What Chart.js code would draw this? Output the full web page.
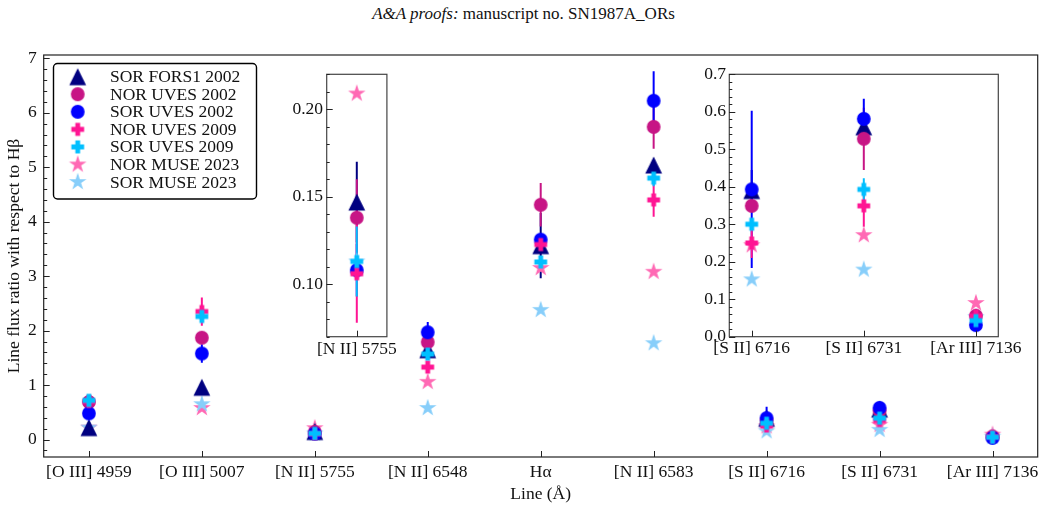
<!DOCTYPE html>
<html>
<head>
<meta charset="utf-8">
<script src="https://cdn.jsdelivr.net/npm/chart.js@4.4.1/dist/chart.umd.min.js"></script>
<style>
    body { margin: 0; background: #fff; width: 1047px; height: 514px; position: relative; overflow: hidden; }
    #page-title { position: absolute; top: 4px; left: 0; width: 1047px; text-align: center;
        font: 17px/20px "Liberation Serif", serif; color: #111; }
    canvas { position: absolute; }
</style>
</head>
<body>
<div id="page-title"><i>A&amp;A proofs:</i> manuscript no. SN1987A_ORs</div>
<canvas id="main-chart" width="1047" height="514" style="left:0;top:0"></canvas>
<canvas id="inset-nii" width="130" height="302" style="left:280px;top:60px"></canvas>
<canvas id="inset-sii" width="357" height="302" style="left:690px;top:60px"></canvas>
<script>
// Emission lines on the x axis
const lineLabels = ['[O III] 4959', '[O III] 5007', '[N II] 5755', '[N II] 6548', 'Hα',
    '[N II] 6583', '[S II] 6716', '[S II] 6731', '[Ar III] 7136'];

// Flux ratios relative to Hbeta, one value per line (null = not measured)
const sorFors1     = [0.22, 0.96, 0.147, 1.65, 3.56, 5.04, 0.390, 0.560, null];
const sorFors1Err  = [null, null, 0.023, null, 0.60, null, 0.055, null, null];
const norUves02    = [0.69, 1.87, 0.138, 1.79, 4.31, 5.74, 0.349, 0.528, 0.056];
const norUves02Err = [null, null, 0.022, null, 0.40, 0.40, null, 0.083, null];
const sorUves02    = [0.48, 1.58, 0.108, 1.97, 3.67, 6.22, 0.393, 0.581, 0.031];
const sorUves02Err = [null, 0.17, 0.015, 0.19, null, 0.54, 0.210, 0.054, null];
const norUves09    = [0.70, 2.35, 0.106, 1.33, 3.58, 4.40, 0.250, 0.349, 0.055];
const norUves09Err = [null, 0.26, 0.028, null, null, 0.31, 0.040, 0.056, null];
const sorUves09    = [0.72, 2.26, 0.113, 1.57, 3.26, 4.80, 0.300, 0.393, 0.043];
const sorUves09Err = [null, null, 0.020, null, null, 0.15, null, 0.030, null];
const norMuse23    = [0.22, 0.58, 0.209, 1.06, 3.15, 3.08, 0.244, 0.271, 0.090];
const sorMuse23    = [0.22, 0.65, 0.113, 0.58, 2.38, 1.77, 0.153, 0.179, 0.052];

const FONT = { family: '"Liberation Serif", serif', size: 17.5 };
const TEXT_COLOR = '#111';

// Filled matplotlib-like markers drawn once to small canvases
function makeMarker(shape, color) {
    const size = 22;
    const c = document.createElement('canvas');
    c.width = size; c.height = size;
    const ctx = c.getContext('2d');
    const m = size / 2;
    ctx.fillStyle = color;
    ctx.beginPath();
    if (shape === 'triangle') {
        const h = 8.4;
        ctx.moveTo(m, m - h); ctx.lineTo(m + h, m + h); ctx.lineTo(m - h, m + h);
    } else if (shape === 'circle') {
        ctx.arc(m, m, 6.9, 0, Math.PI * 2);
    } else if (shape === 'plus') {
        const a = 6.4, t = 2.4;
        const pts = [[t, -a], [t, -t], [a, -t], [a, t], [t, t], [t, a],
            [-t, a], [-t, t], [-a, t], [-a, -t], [-t, -t], [-t, -a]];
        pts.forEach(([px, py], k) => k ? ctx.lineTo(m + px, m + py) : ctx.moveTo(m + px, m + py));
    } else if (shape === 'star') {
        const ro = 9.2, ri = ro * 0.382;
        for (let k = 0; k < 10; k++) {
            const r = k % 2 ? ri : ro;
            const ang = -Math.PI / 2 + k * Math.PI / 5;
            const px = m + r * Math.cos(ang), py = m + r * Math.sin(ang);
            k ? ctx.lineTo(px, py) : ctx.moveTo(px, py);
        }
    }
    ctx.closePath();
    ctx.fill();
    return c;
}

// order: lower value is painted on top
const series = [
    { label: 'SOR FORS1 2002', values: sorFors1,  errors: sorFors1Err,  color: '#000080', shape: 'triangle', order: 5 },
    { label: 'NOR UVES 2002',  values: norUves02, errors: norUves02Err, color: '#C71585', shape: 'circle',   order: 4 },
    { label: 'SOR UVES 2002',  values: sorUves02, errors: sorUves02Err, color: '#0000FF', shape: 'circle',   order: 3 },
    { label: 'NOR UVES 2009',  values: norUves09, errors: norUves09Err, color: '#FF1493', shape: 'plus',     order: 2 },
    { label: 'SOR UVES 2009',  values: sorUves09, errors: sorUves09Err, color: '#00BFFF', shape: 'plus',     order: 1 },
    { label: 'NOR MUSE 2023',  values: norMuse23, errors: null,         color: '#FF69B4', shape: 'star',     order: 7 },
    { label: 'SOR MUSE 2023',  values: sorMuse23, errors: null,         color: '#87CEFA', shape: 'star',     order: 6 }
];
series.forEach(s => { s.marker = makeMarker(s.shape, s.color); });

function buildDatasets() {
    return series.map(s => ({
        label: s.label,
        order: s.order,
        data: s.values.map((v, i) => ({ x: i, y: v })).filter(p => p.y !== null),
        pointStyle: s.marker,
        pointRadius: 8,
        pointHoverRadius: 8,
        showLine: false
    }));
}

// Vertical error bars, no caps, under all markers
const errorBarPlugin = {
    id: 'errorBars',
    beforeDatasetsDraw(chart) {
        const { ctx, chartArea: a, scales: { x, y } } = chart;
        ctx.save();
        ctx.beginPath();
        ctx.rect(a.left, a.top, a.right - a.left, a.bottom - a.top);
        ctx.clip();
        ctx.lineWidth = 2;
        [...series].sort((p, q) => q.order - p.order).forEach(s => {
            if (!s.errors) return;
            ctx.strokeStyle = s.color;
            s.errors.forEach((e, i) => {
                if (e == null || s.values[i] == null) return;
                const px = x.getPixelForValue(i);
                ctx.beginPath();
                ctx.moveTo(px, y.getPixelForValue(s.values[i] - e));
                ctx.lineTo(px, y.getPixelForValue(s.values[i] + e));
                ctx.stroke();
            });
        });
        ctx.restore();
    }
};

// Box around the axes plus inward major/minor ticks (left and bottom only)
const axisFramePlugin = {
    id: 'axisFrame',
    beforeDraw(chart) {
        const { ctx, chartArea: a } = chart;
        ctx.save();
        ctx.fillStyle = '#fff';
        ctx.fillRect(a.left, a.top, a.right - a.left, a.bottom - a.top);
        ctx.restore();
    },
    afterDraw(chart, args, opts) {
        const { ctx, chartArea: a, scales: { x, y } } = chart;
        ctx.save();
        ctx.strokeStyle = opts.color;
        ctx.lineWidth = opts.width;
        ctx.strokeRect(a.left, a.top, a.right - a.left, a.bottom - a.top);
        ctx.lineWidth = 1;
        ctx.strokeStyle = '#222';
        ctx.beginPath();
        y.ticks.forEach(t => {
            const py = Math.round(y.getPixelForValue(t.value)) + 0.5;
            ctx.moveTo(a.left, py); ctx.lineTo(a.left + opts.majorLen, py);
        });
        const n0 = Math.ceil(y.min / opts.minorStep - 1e-6);
        const n1 = Math.floor(y.max / opts.minorStep + 1e-6);
        for (let n = n0; n <= n1; n++) {
            const py = Math.round(y.getPixelForValue(n * opts.minorStep)) + 0.5;
            ctx.moveTo(a.left, py); ctx.lineTo(a.left + opts.minorLen, py);
        }
        x.ticks.forEach(t => {
            const px = Math.round(x.getPixelForValue(t.value)) + 0.5;
            ctx.moveTo(px, a.bottom); ctx.lineTo(px, a.bottom - opts.majorLen);
        });
        ctx.stroke();
        ctx.restore();
    }
};

// Legend box in the upper left of the main axes
const insideLegendPlugin = {
    id: 'insideLegend',
    afterDraw(chart) {
        const ctx = chart.ctx;
        const box = { x: 53.5, y: 63.5, w: 203, h: 135.5 };
        ctx.save();
        ctx.beginPath();
        ctx.roundRect(box.x, box.y, box.w, box.h, 4);
        ctx.fillStyle = '#fff';
        ctx.fill();
        ctx.lineWidth = 1.4;
        ctx.strokeStyle = '#000';
        ctx.stroke();
        ctx.font = `${FONT.size}px ${FONT.family}`;
        ctx.fillStyle = TEXT_COLOR;
        ctx.textBaseline = 'middle';
        series.forEach((s, k) => {
            const ry = 76.7 + k * 17.55;
            ctx.drawImage(s.marker, 77.7 - s.marker.width / 2, ry - s.marker.height / 2);
            ctx.fillText(s.label, 110, ry + 1);
        });
        ctx.restore();
    }
};

function xScale(min, max, ticksIdx, height, padding, title) {
    return {
        type: 'linear', min: min, max: max,
        grid: { display: false, drawTicks: false }, border: { display: false },
        afterBuildTicks: s => { s.ticks = ticksIdx.map(i => ({ value: i })); },
        ticks: { callback: v => lineLabels[v], font: FONT, color: TEXT_COLOR, padding: padding,
            maxRotation: 0, autoSkip: false },
        title: title,
        afterFit: s => { s.height = height; }
    };
}

// ticks at every multiple of step inside [min, max]
function yScale(min, max, step, digits, width, padding, title) {
    return {
        min: min, max: max,
        grid: { display: false, drawTicks: false }, border: { display: false },
        afterBuildTicks: s => {
            const ticks = [];
            for (let n = Math.ceil(min / step - 1e-6); n <= Math.floor(max / step + 1e-6); n++) {
                ticks.push({ value: n * step });
            }
            s.ticks = ticks;
        },
        ticks: { padding: padding, font: FONT, color: TEXT_COLOR, callback: v => v.toFixed(digits) },
        title: title,
        afterFit: s => { s.width = width; }
    };
}

const common = {
    responsive: false,
    animation: false,
    events: []
};

new Chart(document.getElementById('main-chart'), {
    type: 'scatter',
    data: { datasets: buildDatasets() },
    options: {
        ...common,
        layout: { padding: { top: 55, right: 9.3, left: 0, bottom: 0 } },
        plugins: {
            legend: { display: false }, tooltip: { enabled: false },
            axisFrame: { color: '#222', width: 1.2, majorLen: 6, minorLen: 3.5, minorStep: 0.2 }
        },
        scales: {
            x: xScale(-0.4, 8.4, [0, 1, 2, 3, 4, 5, 6, 7, 8], 57, 5,
                { display: true, text: 'Line (Å)', font: FONT, color: TEXT_COLOR, padding: { top: 0, bottom: 9.5 } }),
            y: yScale(-0.32, 7.06, 1, 0, 43.7, 7,
                { display: true, text: 'Line flux ratio with respect to Hβ', font: FONT, color: TEXT_COLOR,
                  padding: { top: 3.5, bottom: 0 } })
        }
    },
    plugins: [axisFramePlugin, errorBarPlugin, insideLegendPlugin]
});

// Zoom on [N II] 5755
new Chart(document.getElementById('inset-nii'), {
    type: 'scatter',
    data: { datasets: buildDatasets() },
    options: {
        ...common,
        layout: { padding: { top: 14.3, right: 22.7, left: 0, bottom: 0 } },
        plugins: {
            legend: { display: false }, tooltip: { enabled: false },
            axisFrame: { color: '#444', width: 1.2, majorLen: 6, minorLen: 3, minorStep: 0.01 }
        },
        scales: {
            x: xScale(1.5, 2.5, [2], 25.3, 2, { display: false }),
            y: yScale(0.07, 0.22, 0.05, 2, 46.7, 3.7, { display: false })
        }
    },
    plugins: [axisFramePlugin, errorBarPlugin]
});

// Zoom on [S II] and [Ar III]
new Chart(document.getElementById('inset-sii'), {
    type: 'scatter',
    data: { datasets: buildDatasets() },
    options: {
        ...common,
        layout: { padding: { top: 14.3, right: 48.7, left: 0, bottom: 0 } },
        plugins: {
            legend: { display: false }, tooltip: { enabled: false },
            axisFrame: { color: '#444', width: 1.2, majorLen: 6, minorLen: 3, minorStep: 0.02 }
        },
        scales: {
            x: xScale(5.8, 8.2, [6, 7, 8], 25.3, 1, { display: false }),
            y: yScale(0, 0.7, 0.1, 1, 39.3, 3.3, { display: false })
        }
    },
    plugins: [axisFramePlugin, errorBarPlugin]
});
</script>
</body>
</html>
